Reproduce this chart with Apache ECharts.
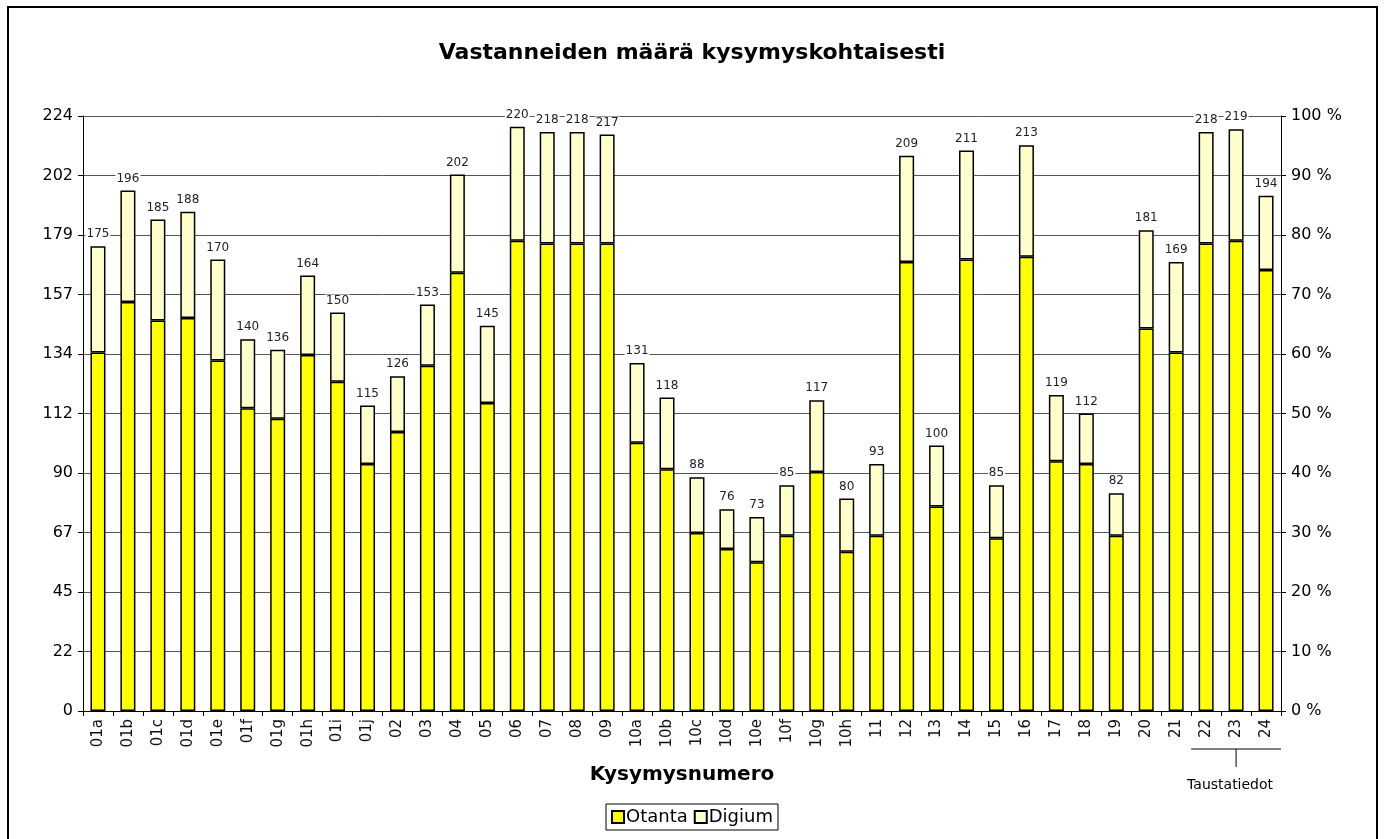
<!DOCTYPE html>
<html>
<head>
<meta charset="utf-8">
<script src="https://cdn.jsdelivr.net/npm/echarts@6/dist/echarts.min.js"></script>
<style>
  html, body { margin: 0; padding: 0; background: #fff; }
  #main { width: 1384px; height: 839px; }
</style>
</head>
<body>
<div id="main"></div>
<script>
const categories = ['01a','01b','01c','01d','01e','01f','01g','01h','01i','01j','02','03','04','05','06','07','08','09',
  '10a','10b','10c','10d','10e','10f','10g','10h','11','12','13','14','15','16','17','18','19','20','21','22','23','24'];
const totals = [175,196,185,188,170,140,136,164,150,115,126,153,202,145,220,218,218,217,131,118,88,76,73,85,117,80,93,
  209,100,211,85,213,119,112,82,181,169,218,219,194];
const otanta = [135,154,147,148,132,114,110,134,124,93,105,130,165,116,177,176,176,176,101,91,67,61,56,66,90,60,66,
  169,77,170,65,171,94,93,66,144,135,176,177,166];
const digium = [40,42,38,40,38,26,26,30,26,22,21,23,37,29,43,42,42,41,30,27,21,15,17,19,27,20,27,
  40,23,41,20,42,25,19,16,37,34,42,42,28];

const font = '"DejaVu Sans", Verdana, sans-serif';
const chart = echarts.init(document.getElementById('main'));

const option = {
  animation: false,
  backgroundColor: '#fff',
  textStyle: { fontFamily: font },
  title: {
    text: 'Vastanneiden määrä kysymyskohtaisesti',
    left: 'center',
    top: 37,
    textStyle: { fontFamily: font, fontSize: 22, fontWeight: 'bold', color: '#000' }
  },
  legend: {
    bottom: 9,
    left: 'center',
    data: ['Otanta', 'Digium'],
    icon: 'rect',
    itemWidth: 12,
    itemHeight: 12,
    itemGap: 6,
    borderColor: '#000',
    borderWidth: 1,
    padding: [4, 5],
    textStyle: { fontFamily: font, fontSize: 18, color: '#000', padding: [0, 0, 0, -3] }
  },
  grid: { left: 83, right: 103, top: 116, bottom: 128 },
  xAxis: {
    type: 'category',
    data: categories,
    name: 'Kysymysnumero',
    nameLocation: 'middle',
    nameGap: 54,
    nameTextStyle: { fontFamily: font, fontSize: 20, fontWeight: 'bold', color: '#000' },
    axisLine: { lineStyle: { color: '#000', width: 1 } },
    axisTick: { show: true, length: 5, lineStyle: { color: '#000' } },
    axisLabel: { rotate: 90, fontSize: 15, color: '#111', margin: 8, interval: 0 }
  },
  yAxis: [
    {
      type: 'value',
      min: 0,
      max: 224,
      interval: 22.4,
      axisLine: { show: true, lineStyle: { color: '#000' } },
      axisTick: { show: true, length: 5, lineStyle: { color: '#000' } },
      axisLabel: { fontSize: 16, color: '#000', margin: 10, formatter: v => Math.round(v) },
      splitLine: { lineStyle: { color: '#555', width: 1 } }
    },
    {
      type: 'value',
      min: 0,
      max: 100,
      interval: 10,
      position: 'right',
      axisLine: { show: true, lineStyle: { color: '#000' } },
      axisTick: { show: true, length: 5, lineStyle: { color: '#000' } },
      axisLabel: { fontSize: 16, color: '#000', margin: 10, formatter: '{value} %' },
      splitLine: { show: false }
    }
  ],
  series: [
    {
      name: 'Otanta',
      type: 'bar',
      stack: 'total',
      barWidth: 15,
      data: otanta,
      itemStyle: { color: '#ffff00', borderColor: '#000', borderWidth: 1.5 }
    },
    {
      name: 'Digium',
      type: 'bar',
      stack: 'total',
      barWidth: 15,
      data: digium,
      itemStyle: { color: '#ffffcc', borderColor: '#000', borderWidth: 1.5 },
      label: {
        show: true,
        position: 'top',
        distance: 6,
        fontSize: 12,
        color: '#222',
        backgroundColor: '#fff',
        padding: [0, 1],
        formatter: p => totals[p.dataIndex]
      }
    }
  ]
};

chart.setOption(option);

// bracket under the last three categories
const p22 = chart.convertToPixel({ xAxisIndex: 0 }, '22');
const p23 = chart.convertToPixel({ xAxisIndex: 0 }, '23');
const p24 = chart.convertToPixel({ xAxisIndex: 0 }, '24');
const half = (p23 - p22) / 2;
const yLine = 749;

chart.setOption({
  graphic: [
    {
      type: 'rect',
      shape: { x: 8, y: 7, width: 1369, height: 850 },
      style: { fill: 'none', stroke: '#000', lineWidth: 2 },
      silent: true
    },
    {
      type: 'line',
      shape: { x1: p22 - half, y1: yLine, x2: p24 + half, y2: yLine },
      style: { stroke: '#000', lineWidth: 1 }
    },
    {
      type: 'line',
      shape: { x1: p23, y1: yLine, x2: p23, y2: yLine + 18 },
      style: { stroke: '#000', lineWidth: 1 }
    },
    {
      type: 'text',
      x: p23 - 6,
      y: 785,
      style: { text: 'Taustatiedot', font: '14px ' + font, fill: '#000', textAlign: 'center', textVerticalAlign: 'middle' }
    }
  ]
});
</script>
</body>
</html>
